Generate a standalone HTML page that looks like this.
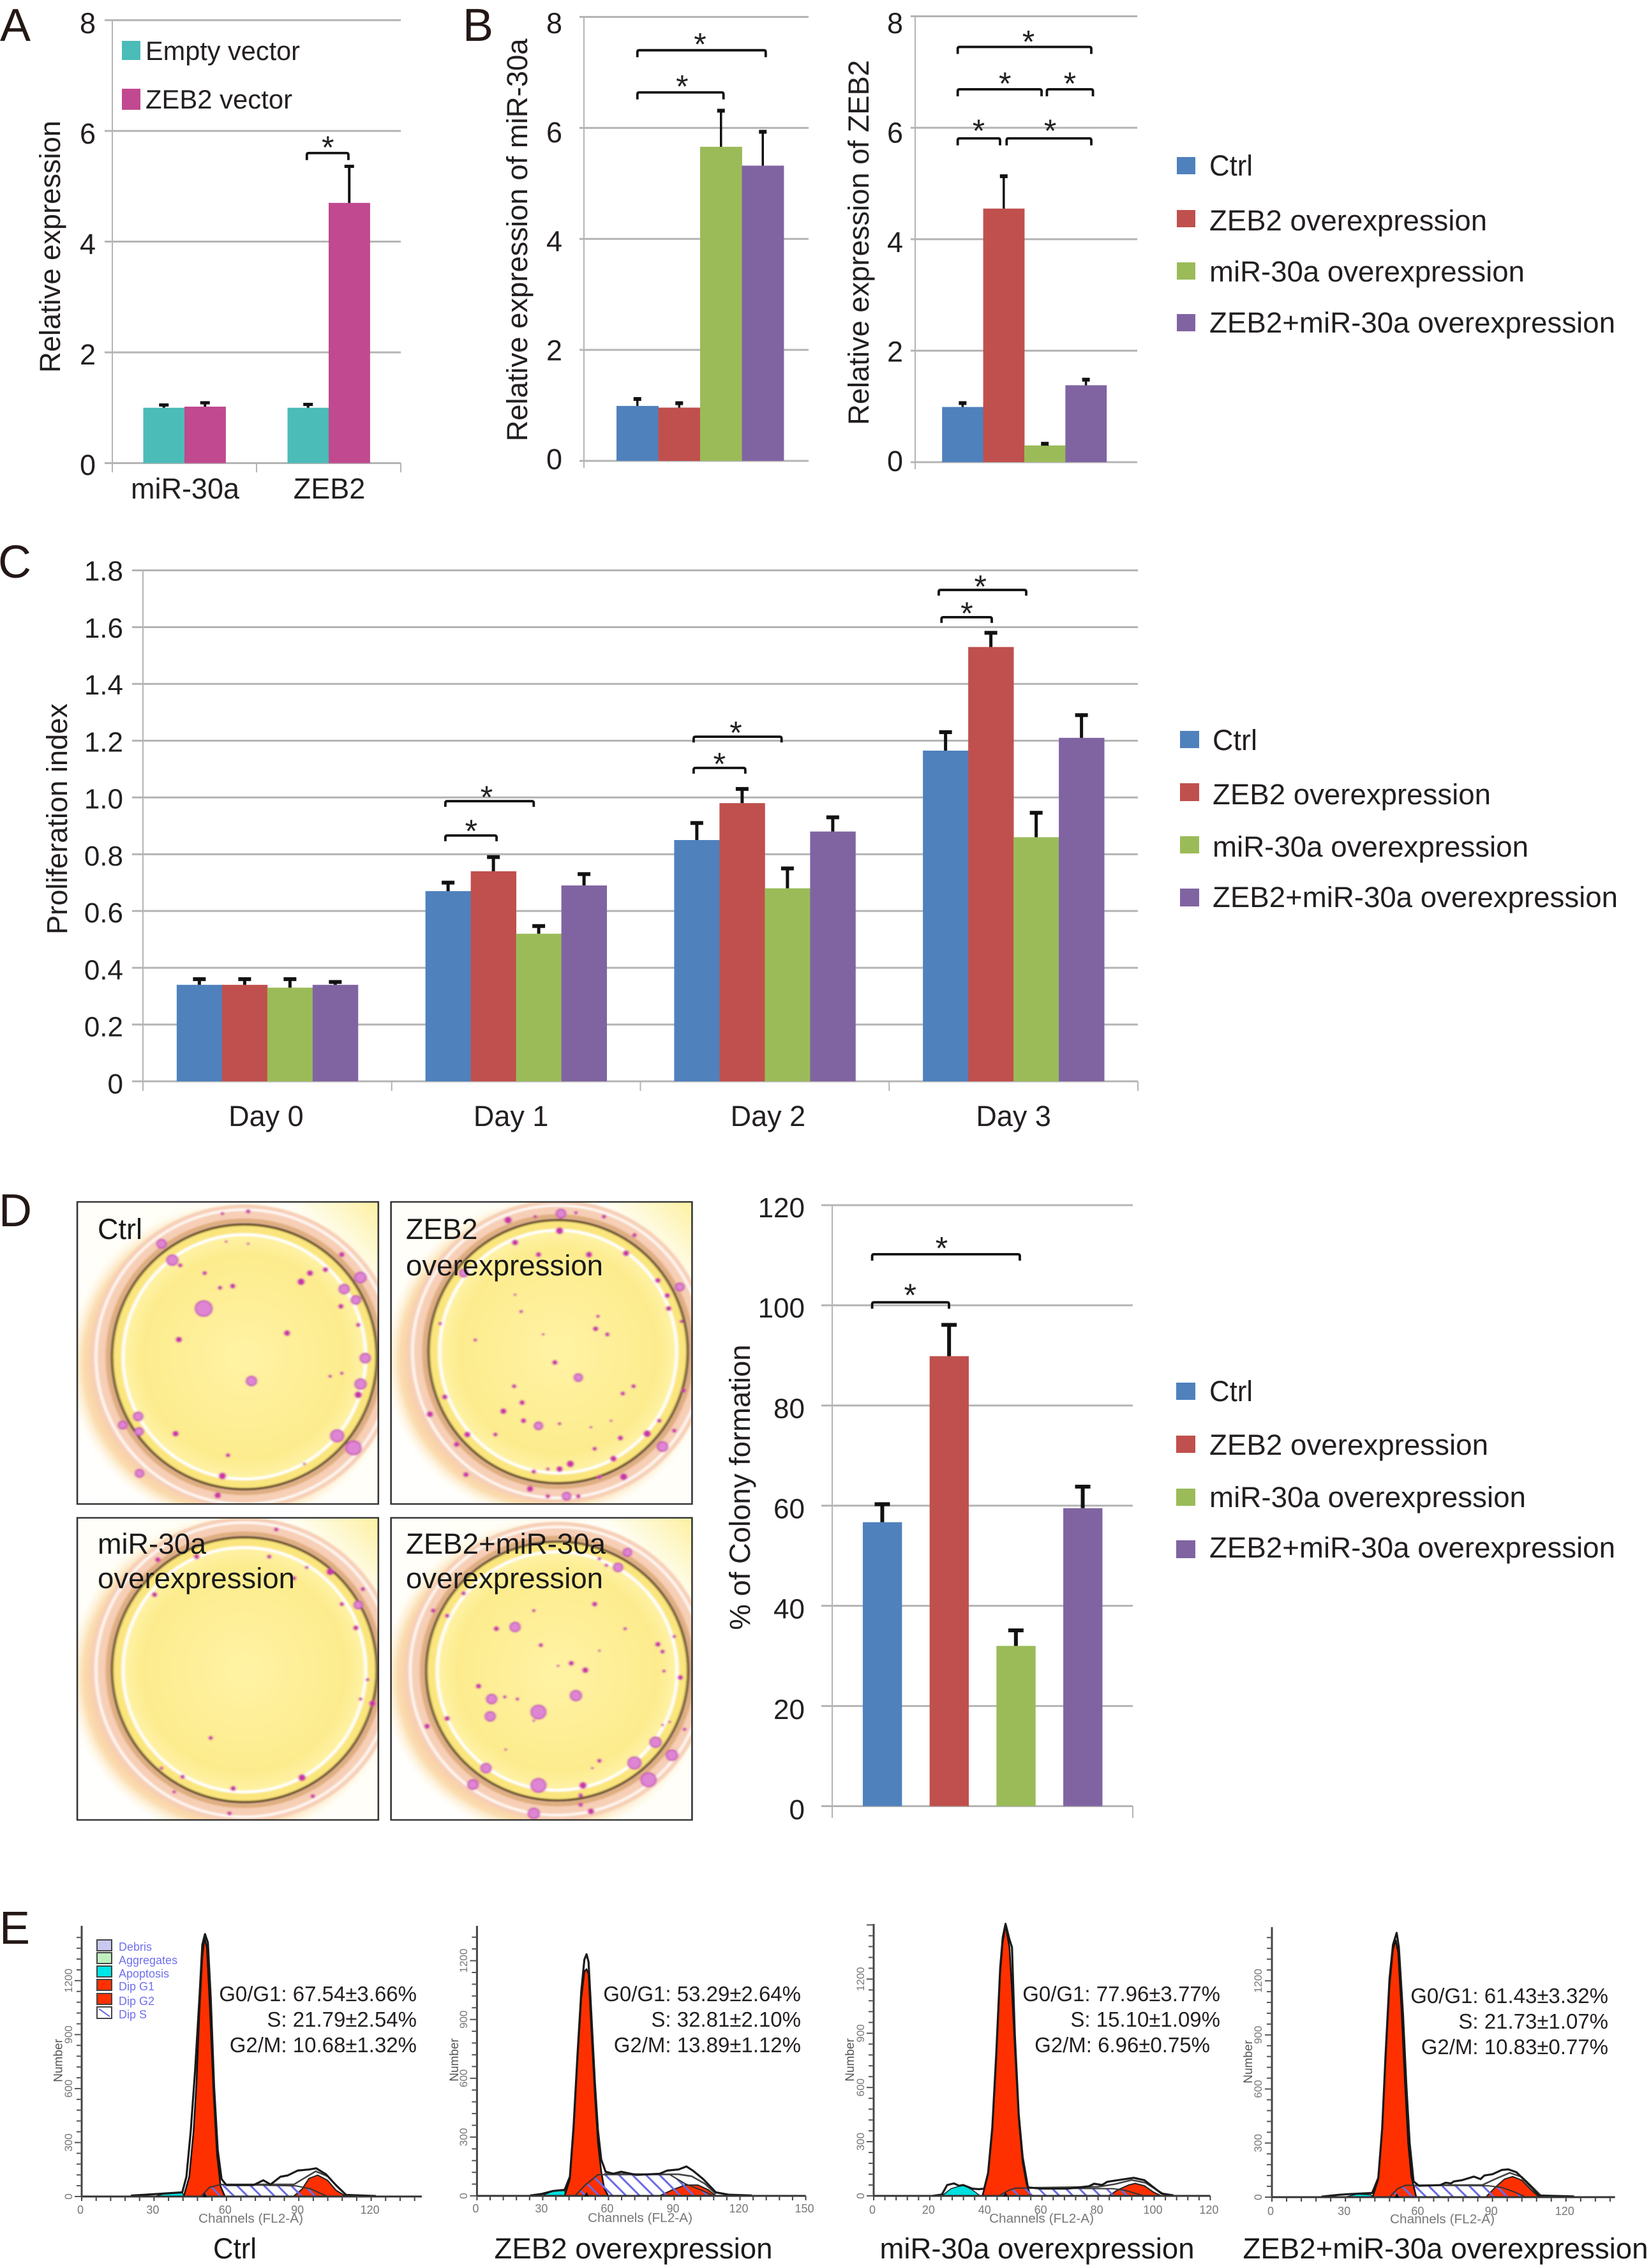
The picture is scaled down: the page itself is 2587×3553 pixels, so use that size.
<!DOCTYPE html>
<html lang="en">
<head>
<meta charset="utf-8">
<title>ZEB2 and miR-30a overexpression figure</title>
<style>
html,body{margin:0;padding:0;background:#fff;}
svg{display:block;font-family:"Liberation Sans",Arial,sans-serif;}
.t{fill:#231f20;}
</style>
</head>
<body>
<svg id="figure" xmlns="http://www.w3.org/2000/svg" width="2587" height="3553" viewBox="0 0 2587 3553">
<defs>
<pattern id="hatch" patternUnits="userSpaceOnUse" width="15" height="15" patternTransform="rotate(-45)">
<rect x="0" y="0" width="3" height="15" fill="#6a6ae6"/>
</pattern>
<radialGradient id="peach" cx="0.5" cy="0.5" r="0.5">
<stop offset="0" stop-color="#f6c7a6"/><stop offset="0.8" stop-color="#f6c4a4"/><stop offset="0.9" stop-color="#fbdcae"/><stop offset="1" stop-color="#fffbe6" stop-opacity="0"/>
</radialGradient>
<radialGradient id="yolk" cx="0.5" cy="0.5" r="0.5">
<stop offset="0" stop-color="#fff3a4"/><stop offset="0.85" stop-color="#fdec8e"/><stop offset="1" stop-color="#fef2a4"/>
</radialGradient>
<linearGradient id="photoBg" x1="0" y1="1" x2="1" y2="0">
<stop offset="0" stop-color="#ffffff"/><stop offset="0.85" stop-color="#fffef4"/><stop offset="1" stop-color="#fdf0a0"/>
</linearGradient>
<filter id="soften" x="-5%" y="-5%" width="110%" height="110%"><feGaussianBlur stdDeviation="2"/></filter>
</defs>
<rect x="0" y="0" width="2587" height="3553" fill="#fff"/>
<g id="marks"></g>

<g font-size="72" fill="#231815">
<text x="0" y="64">A</text>
<text x="725" y="64">B</text>
<text x="-3" y="905">C</text>
<text x="-2" y="1921">D</text>
<text x="-1" y="3045">E</text>
</g>

<g font-size="45" fill="#231f20" text-anchor="middle">
<text transform="translate(94,386.5) rotate(-90)" textLength="395" lengthAdjust="spacingAndGlyphs">Relative expression</text>
<text transform="translate(826,376) rotate(-90)" textLength="631" lengthAdjust="spacingAndGlyphs">Relative expression of miR-30a</text>
<text transform="translate(1361,380) rotate(-90)" textLength="572" lengthAdjust="spacingAndGlyphs">Relative expression of ZEB2</text>
<text transform="translate(105,1283) rotate(-90)" textLength="362" lengthAdjust="spacingAndGlyphs">Proliferation index</text>
<text transform="translate(1175,2330) rotate(-90)" textLength="447" lengthAdjust="spacingAndGlyphs">% of Colony formation</text>
</g>

<g font-size="41.5" fill="#231f20">
<rect x="191" y="64" width="29" height="30" fill="#4bbcb8"/>
<text x="228" y="94" textLength="242" lengthAdjust="spacingAndGlyphs">Empty vector</text>
<rect x="191" y="139" width="29" height="33" fill="#c0498f"/>
<text x="228" y="170" textLength="230" lengthAdjust="spacingAndGlyphs">ZEB2 vector</text>
</g>

<g font-size="45" fill="#231f20">
<rect x="1844" y="246" width="29" height="27" fill="#4f81bd"/>
<rect x="1844" y="329" width="29" height="27" fill="#c0504d"/>
<rect x="1844" y="411" width="29" height="27" fill="#9bbb59"/>
<rect x="1844" y="492" width="29" height="27" fill="#8064a2"/>
<text x="1895" y="275" textLength="68" lengthAdjust="spacingAndGlyphs">Ctrl</text>
<text x="1895" y="361" textLength="435" lengthAdjust="spacingAndGlyphs">ZEB2 overexpression</text>
<text x="1895" y="441" textLength="494" lengthAdjust="spacingAndGlyphs">miR-30a overexpression</text>
<text x="1895" y="521" textLength="636" lengthAdjust="spacingAndGlyphs">ZEB2+miR-30a overexpression</text>
</g>

<g font-size="45" fill="#231f20">
<rect x="1849" y="1145" width="30" height="27" fill="#4f81bd"/>
<rect x="1849" y="1227" width="30" height="28" fill="#c0504d"/>
<rect x="1849" y="1310" width="30" height="27" fill="#9bbb59"/>
<rect x="1849" y="1392" width="30" height="28" fill="#8064a2"/>
<text x="1900" y="1175" textLength="70" lengthAdjust="spacingAndGlyphs">Ctrl</text>
<text x="1900" y="1260" textLength="436" lengthAdjust="spacingAndGlyphs">ZEB2 overexpression</text>
<text x="1900" y="1342" textLength="495" lengthAdjust="spacingAndGlyphs">miR-30a overexpression</text>
<text x="1900" y="1421" textLength="635" lengthAdjust="spacingAndGlyphs">ZEB2+miR-30a overexpression</text>
</g>

<g font-size="45" fill="#231f20">
<rect x="1843" y="2166" width="30" height="27" fill="#4f81bd"/>
<rect x="1843" y="2249" width="30" height="27" fill="#c0504d"/>
<rect x="1843" y="2332" width="30" height="27" fill="#9bbb59"/>
<rect x="1843" y="2413" width="30" height="28" fill="#8064a2"/>
<text x="1895" y="2195" textLength="68" lengthAdjust="spacingAndGlyphs">Ctrl</text>
<text x="1895" y="2279" textLength="437" lengthAdjust="spacingAndGlyphs">ZEB2 overexpression</text>
<text x="1895" y="2361" textLength="496" lengthAdjust="spacingAndGlyphs">miR-30a overexpression</text>
<text x="1895" y="2440" textLength="636" lengthAdjust="spacingAndGlyphs">ZEB2+miR-30a overexpression</text>
</g>

<g font-size="45" fill="#1a1a1a">
<text x="153" y="1941">Ctrl</text>
<text x="636" y="1941">ZEB2</text>
<text x="636" y="1998" textLength="309" lengthAdjust="spacingAndGlyphs">overexpression</text>
<text x="153" y="2434">miR-30a</text>
<text x="153" y="2488" textLength="309" lengthAdjust="spacingAndGlyphs">overexpression</text>
<text x="636" y="2434" textLength="313" lengthAdjust="spacingAndGlyphs">ZEB2+miR-30a</text>
<text x="636" y="2488" textLength="309" lengthAdjust="spacingAndGlyphs">overexpression</text>
</g>

<g font-size="18" fill="#7070ee">
<rect x="152" y="3039" width="23" height="17" fill="#c8c8f0" stroke="#444" stroke-width="2"/>
<rect x="152" y="3059" width="23" height="17" fill="#c0f0c0" stroke="#444" stroke-width="2"/>
<rect x="152" y="3080" width="23" height="17" fill="#00e6e6" stroke="#444" stroke-width="2"/>
<rect x="152" y="3101" width="23" height="17" fill="#ff3000" stroke="#444" stroke-width="2"/>
<rect x="152" y="3123" width="23" height="17" fill="#ff3000" stroke="#444" stroke-width="2"/>
<rect x="152" y="3144" width="23" height="18" fill="#fff" stroke="#444" stroke-width="2"/>
<line x1="155" y1="3147" x2="172" y2="3159" stroke="#6a6ae6" stroke-width="2"/>
<text x="186" y="3056">Debris</text>
<text x="186" y="3077">Aggregates</text>
<text x="186" y="3098">Apoptosis</text>
<text x="186" y="3118">Dip G1</text>
<text x="186" y="3141">Dip G2</text>
<text x="186" y="3162">Dip S</text>
</g>

<g font-size="33" fill="#231f20" text-anchor="end">
<text x="653" y="3135">G0/G1: 67.54±3.66%</text>
<text x="653" y="3175">S: 21.79±2.54%</text>
<text x="653" y="3215">G2/M: 10.68±1.32%</text>
<text x="1255" y="3135">G0/G1: 53.29±2.64%</text>
<text x="1255" y="3175">S: 32.81±2.10%</text>
<text x="1255" y="3215">G2/M: 13.89±1.12%</text>
<text x="1912" y="3135">G0/G1: 77.96±3.77%</text>
<text x="1912" y="3175">S: 15.10±1.09%</text>
<text x="1896" y="3215">G2/M: 6.96±0.75%</text>
<text x="2520" y="3138">G0/G1: 61.43±3.32%</text>
<text x="2520" y="3178">S: 21.73±1.07%</text>
<text x="2520" y="3218">G2/M: 10.83±0.77%</text>
</g>

<g font-size="45" fill="#1a1a1a" text-anchor="middle">
<text x="368" y="3538" textLength="68" lengthAdjust="spacingAndGlyphs">Ctrl</text>
<text x="992.5" y="3538" textLength="436" lengthAdjust="spacingAndGlyphs">ZEB2 overexpression</text>
<text x="1625" y="3538" textLength="493" lengthAdjust="spacingAndGlyphs">miR-30a overexpression</text>
<text x="2265" y="3538" textLength="635" lengthAdjust="spacingAndGlyphs">ZEB2+miR-30a overexpression</text>
</g>
</svg>

<script>
/* ---------- Panel A data ---------- */
const panelACategories = ['miR-30a', 'ZEB2'];
const panelAEmpty = [1.0, 1.0];
const panelAEmptyTop = [1.05, 1.06];
const panelAZeb2 = [1.02, 4.7];
const panelAZeb2Top = [1.09, 5.36];
const panelATicks = [0, 2, 4, 6, 8];
const panelATickLabels = ['0', '2', '4', '6', '8'];

/* ---------- Panel B data ---------- */
const panelBCategories = [''];
const bMirCtrl = [0.99];
const bMirCtrlTop = [1.115];
const bMirZeb2 = [0.96];
const bMirZeb2Top = [1.04];
const bMirMir30a = [5.66];
const bMirMir30aTop = [6.31];
const bMirCombo = [5.32];
const bMirComboTop = [5.93];
const bZebCtrl = [0.99];
const bZebCtrlTop = [1.06];
const bZebZeb2 = [4.55];
const bZebZeb2Top = [5.13];
const bZebMir30a = [0.30];
const bZebMir30aTop = [0.33];
const bZebCombo = [1.38];
const bZebComboTop = [1.48];

/* ---------- Panel C data ---------- */
const panelCCategories = ['Day 0', 'Day 1', 'Day 2', 'Day 3'];
const cCtrl = [0.34, 0.67, 0.85, 1.165];
const cCtrlTop = [0.36, 0.70, 0.91, 1.23];
const cZeb2 = [0.34, 0.74, 0.98, 1.53];
const cZeb2Top = [0.36, 0.79, 1.03, 1.58];
const cMir30a = [0.33, 0.52, 0.68, 0.86];
const cMir30aTop = [0.36, 0.547, 0.75, 0.946];
const cCombo = [0.34, 0.69, 0.88, 1.21];
const cComboTop = [0.35, 0.73, 0.93, 1.29];
const panelCTicks = [0, 0.2, 0.4, 0.6, 0.8, 1.0, 1.2, 1.4, 1.6, 1.8];
const panelCTickLabels = ['0', '0.2', '0.4', '0.6', '0.8', '1.0', '1.2', '1.4', '1.6', '1.8'];

/* ---------- Panel D data ---------- */
const dCtrl = [56.7];
const dCtrlTop = [60.3];
const dZeb2 = [89.85];
const dZeb2Top = [96.1];
const dMir30a = [32];
const dMir30aTop = [35.1];
const dCombo = [59.5];
const dComboTop = [63.8];
const panelDTicks = [0, 20, 40, 60, 80, 100, 120];
const panelDTickLabels = ['0', '20', '40', '60', '80', '100', '120'];

/* ---------- Panel E data: [channel, count] ---------- */
const ctrlG1 = [[42.3,0],[44.6,110],[46.4,365],[47.6,631],[48.8,1033],[50,1329],[50.9,1439],[51.9,1385],[53.2,1033],[54.7,564],[56.1,231],[57.6,56],[59.4,0]];
const ctrlG2 = [[87.7,0],[91.3,40],[94.2,100],[97.8,119],[101.9,90],[105.4,35],[109.6,0]];
const ctrlS = [[49.4,0],[52.9,50],[57.6,67],[88.9,59],[94.8,43],[101.9,0]];
const ctrlApoptosis = [[29.9,0],[34.6,16],[41.7,21],[42.6,0]];
const ctrlFit = [[60,67],[88,67],[92,100],[97,140],[102,112],[106,55],[110,4]];
const ctrlEnvelope = [[20.4,5],[29.9,13],[41.7,23],[43.4,110],[45.2,365],[47,700],[48.8,1103],[50,1399],[51.1,1459],[52.3,1412],[53.5,1103],[54.9,607],[56.4,258],[58,97],[60,63],[71.2,63],[75.3,90],[78.3,67],[82.4,110],[85.4,117],[89.5,144],[94.2,150],[97.2,157],[101.3,123],[105.4,63],[109.6,9],[122,3]];

const zebG1 = [[40,0],[42.4,86],[44.1,332],[45.9,702],[47.6,1010],[49,1145],[50,1157],[50.9,1133],[52.3,825],[53.8,517],[55.2,271],[56.7,123],[58.1,37],[59.9,0]];
const zebG2 = [[83.3,0],[89.2,31],[95,55],[100.9,55],[105.5,31],[109,0]];
const zebS = [[44.7,0],[49.4,55],[55.2,108],[68,108],[88,108],[95,62],[103.2,25],[107.9,0]];
const zebApoptosis = [[29.5,0],[34.7,25],[40,27],[40.6,0]];
const zebFit = [[58,112],[86,110],[92,110],[98,100],[104,62],[109,10]];
const zebEnvelope = [[24.2,2],[29.5,10],[34.7,25],[40,31],[42.4,98],[44.1,357],[45.9,726],[47.6,1046],[49,1206],[50,1233],[50.9,1194],[52.3,899],[53.8,579],[55.2,332],[56.7,185],[58.7,123],[62.2,113],[65.8,123],[72.8,107],[83.3,113],[86.8,129],[92,135],[95.6,150],[98.5,129],[103.2,86],[109,18],[114.9,6],[125.4,2]];

const mirG1 = [[38.8,0],[40.8,120],[42.3,361],[43.7,762],[45.1,1230],[46,1403],[47,1497],[48.4,1377],[49.3,1136],[50.3,829],[51.7,428],[53.1,187],[54.5,67],[55.9,0]];
const mirG2 = [[83.8,0],[87,33],[90.9,60],[93.2,69],[96.5,56],[99.8,20],[102.6,0]];
const mirS = [[44.6,0],[48.4,33],[50.8,43],[85.2,40],[89,33],[96.5,0]];
const mirApoptosis = [[24.3,0],[27.6,40],[31.9,60],[35.2,33],[38,0]];
const mirFit = [[56,45],[80,50],[86,65],[92,88],[97,72],[101,32],[104,5]];
const mirEnvelope = [[21,0],[24.3,7],[26.2,60],[28.6,69],[30.5,56],[31.9,60],[35.2,40],[37.5,37],[39.4,40],[40.8,127],[42.3,380],[43.7,790],[45.1,1260],[46,1430],[47,1506],[48.4,1420],[49.3,1376],[50.3,895],[51.7,454],[53.1,214],[55,47],[59.7,40],[69.2,40],[76.7,53],[78.6,67],[81.4,60],[83.3,78],[87,87],[92.7,100],[96.5,87],[99.8,47],[102.6,13],[106.9,3]];

const comboG1 = [[41.1,0],[43.4,100],[45,368],[46.4,770],[48,1172],[49.4,1373],[50.5,1426],[51.5,1359],[52.9,1038],[54.3,636],[55.6,301],[56.9,114],[58.9,0]];
const comboG2 = [[87.3,0],[91.1,54],[94.9,100],[98.2,114],[102,94],[105.8,40],[109.1,0]];
const comboS = [[48,0],[51.3,47],[54.5,66],[88.4,63],[93.8,54],[99.3,27],[103.6,0]];
const comboApoptosis = [[29.5,0],[34.9,17],[40.4,13],[41.5,0]];
const comboFit = [[60,66],[86,68],[91,100],[97,135],[102,112],[106,60],[110,6]];
const comboEnvelope = [[20.2,3],[27.3,13],[31.6,17],[40.9,23],[43.4,107],[45,382],[46.4,797],[48,1212],[49.4,1400],[50.9,1466],[51.8,1386],[53.5,1011],[54.8,636],[56.2,301],[57.8,87],[60,63],[68.7,67],[70.9,80],[73.1,76],[74.2,87],[77.5,94],[82.4,114],[85.1,100],[86.7,120],[90,127],[93.8,151],[96.5,154],[99.8,138],[103.6,87],[109.1,9],[123.3,4]];

const histXTicks30 = [0, 30, 60, 90, 120];
const histXTicks30Long = [0, 30, 60, 90, 120, 150];
const histXTicks20 = [0, 20, 40, 60, 80, 100, 120];
const histYTicks = [0, 300, 600, 900, 1200];

/* ---------- Colony photo dots (decorative photograph texture) ---------- */
const colonyCtrl = [[345,190,10],[368,228,12],[385,240,5],[437,258,5],[470,292,5],[497,288,6],[435,340,18],[382,412,7],[613,397,7],[643,278,8],[662,258,7],[695,250,6],[770,268,12],[735,295,11],[760,320,10],[728,335,6],[765,378,5],[780,455,11],[770,515,12],[765,540,8],[730,490,4],[705,497,4],[537,508,11],[487,680,5],[375,630,7],[262,610,9],[295,590,10],[297,625,9],[720,635,14],[755,663,16],[475,728,8],[465,773,7],[298,722,9],[475,120,4],[530,115,5],[483,185,3],[530,190,3],[730,215,6],[650,700,3]];
const colonyZeb2 = [[1085,135,8],[1143,127,4],[1198,120,10],[1230,118,4],[1290,127,5],[1355,170,5],[1100,187,7],[1195,160,8],[1258,215,7],[1337,212,7],[1150,215,6],[990,258,9],[1405,275,6],[1452,290,9],[1425,310,6],[1113,347,4],[1100,308,3],[1277,358,4],[1272,387,6],[1297,400,5],[1160,400,3],[1015,413,4],[1428,340,6],[1455,370,4],[940,375,4],[1185,465,6],[1235,500,9],[1098,520,5],[1353,520,5],[1330,537,5],[1305,600,3],[1075,578,7],[1115,558,6],[1118,600,6],[1150,612,9],[1195,607,4],[1262,615,3],[1408,600,5],[1440,623,5],[1382,630,8],[1325,640,6],[1058,632,5],[998,632,7],[950,545,6],[975,655,6],[918,585,7],[1270,665,5],[1310,688,7],[1218,700,8],[1195,712,7],[1170,712,4],[1140,718,5],[1132,758,7],[1280,730,5],[1332,730,8],[1415,660,11],[1210,775,9],[1235,775,5],[1170,775,5],[995,725,6],[1460,530,5]];
const colonyMir = [[337,922,6],[330,1003,6],[420,915,6],[575,915,5],[628,965,5],[655,940,4],[705,950,8],[730,1025,5],[765,1027,9],[760,1080,6],[775,990,5],[785,1200,4],[770,1245,4],[795,1255,7],[450,1335,5],[390,1425,5],[345,1405,4],[498,1452,6],[645,1427,8],[668,1470,5],[372,1460,4],[490,1510,5],[590,852,5]];
const colonyCombo = [[1340,905,9],[1320,940,10],[1280,920,4],[1295,935,4],[955,1052,5],[925,1040,5],[990,1000,5],[1270,1025,6],[1140,1040,4],[1060,1082,6],[1100,1078,11],[1155,1120,5],[1335,1082,4],[1280,1133,3],[1405,1118,6],[1415,1135,5],[1440,1100,4],[1220,1162,6],[1250,1178,7],[1192,1168,3],[1418,1180,4],[1453,1195,6],[1022,1215,6],[1050,1245,11],[1078,1240,4],[1105,1245,4],[1150,1275,16],[1230,1237,12],[1047,1285,11],[1140,1295,3],[955,1290,6],[1430,1298,3],[1415,1305,3],[1462,1315,4],[912,1308,6],[1400,1345,12],[1435,1375,12],[1355,1393,14],[1385,1432,16],[1280,1388,5],[1265,1405,3],[1038,1405,11],[1010,1443,11],[1150,1445,16],[1245,1445,8],[1240,1468,5],[1240,1490,5],[1262,1505,7],[1140,1510,12],[1080,1362,3]];

const NS = 'http://www.w3.org/2000/svg';
const marks = document.getElementById('marks');

function mk(parent, tag, attrs, name, text) {
  const el = document.createElementNS(NS, tag);
  for (const k in attrs) el.setAttribute(k, attrs[k]);
  
  
  if (text !== undefined) el.textContent = text;
  parent.appendChild(el);
  return el;
}

const GRID = '#b4b4b4';
const INK = '#231f20';

function drawBarChart(c) {
  const g = mk(marks, 'g', {}, c.name);
  const y = v => c.yBot - (v / c.yMax) * (c.yBot - c.yTop);
  const n = c.categories.length;
  const band = (c.x1 - c.x0) / n;
  const k = c.series.length;
  const span = (k - 1) * c.step + c.barW;
  const barLeft = (gi, si) => c.x0 + gi * band + (band - span) / 2 + c.dx + si * c.step;

  c.ticks.forEach((t, i) => {
    mk(g, 'line', {x1: c.leftTick, x2: c.x1, y1: y(t), y2: y(t), stroke: GRID, 'stroke-width': 3}, 'gridline-' + c.tickLabels[i]);
    const cy = c.labelBot + (c.labelTop - c.labelBot) * (t / c.yMax);
    mk(g, 'text', {x: c.labelRight, y: cy + 16, 'text-anchor': 'end', 'font-size': c.tickFont, fill: INK}, 'y-tick-label-' + c.tickLabels[i], c.tickLabels[i]);
  });
  mk(g, 'line', {x1: c.x0, x2: c.x0, y1: c.yTop, y2: c.bottomTick, stroke: GRID, 'stroke-width': 2}, 'y-axis-line');
  if (!c.noRightTicks) {
    for (let i = 1; i <= n; i++) {
      mk(g, 'line', {x1: c.x0 + i * band, x2: c.x0 + i * band, y1: c.yBot, y2: c.bottomTick, stroke: GRID, 'stroke-width': 2}, 'x-axis-tick');
    }
  }

  c.categories.forEach((cat, gi) => {
    if (cat) {
      const dx = c.catDx ? c.catDx[gi] : 0;
      mk(g, 'text', {x: c.x0 + (gi + 0.5) * band + dx, y: c.catY, 'text-anchor': 'middle', 'font-size': 45, fill: INK}, 'x-tick-label-' + cat, cat);
    }
    c.series.forEach((s, si) => {
      const bx = barLeft(gi, si);
      const top = y(s.values[gi]);
      mk(g, 'rect', {x: bx, y: top, width: c.barW + 0.4, height: y(0) - top, fill: s.color}, 'bar-' + s.key + '-' + gi);
      const cx = bx + c.barW / 2;
      const et = y(s.tops[gi]);
      mk(g, 'line', {x1: cx, x2: cx, y1: top, y2: et, stroke: '#111', 'stroke-width': c.whisker}, 'error-bar-' + s.key + '-' + gi);
      mk(g, 'rect', {x: cx - c.capW / 2, y: et - c.capH / 2, width: c.capW, height: c.capH, fill: '#111'}, 'error-cap-' + s.key + '-' + gi);
    });
  });

  c.brackets.forEach(b => {
    const [gi, a, e, v, sa, sv] = b;
    const base = barLeft(gi, 0);
    const xa = base + a * c.step;
    const xb = base + e * c.step;
    const yy = y(v);
    const d = c.drop;
    mk(g, 'path', {d: `M${xa} ${yy + d}L${xa} ${yy + 3}Q${xa} ${yy} ${xa + 3} ${yy}L${xb - 3} ${yy}Q${xb} ${yy} ${xb} ${yy + 3}L${xb} ${yy + d}`, fill: 'none', stroke: '#111', 'stroke-width': 3.8}, 'significance-bracket');
    mk(g, 'text', {x: base + sa * c.step, y: y(sv) + 28, 'text-anchor': 'middle', 'font-size': 50, fill: '#222'}, 'significance-star', '*');
  });
}

const BLUE = '#4f81bd', RED = '#c0504d', GREEN = '#9bbb59', PURPLE = '#8064a2';

drawBarChart({
  name: 'panel-a-chart', categories: panelACategories, catY: 781, catDx: [1, 1],
  x0: 176, x1: 628, yTop: 31.6, yBot: 725.5, yMax: 8, leftTick: 164, bottomTick: 740,
  ticks: panelATicks, tickLabels: panelATickLabels, labelTop: 36, labelBot: 728, labelRight: 150, tickFont: 45,
  barW: 64.5, step: 64.5, dx: 0, whisker: 4, capW: 15, capH: 5, drop: 11,
  series: [
    {key: 'empty-vector', color: '#4bbcb8', values: panelAEmpty, tops: panelAEmptyTop},
    {key: 'zeb2-vector', color: '#c0498f', values: panelAZeb2, tops: panelAZeb2Top}
  ],
  brackets: [[1, 0.47, 1.48, 5.6, 0.98, 5.83]]
});

drawBarChart({
  name: 'panel-b-mir30a-chart', categories: panelBCategories,
  x0: 915, x1: 1267, yTop: 26.5, yBot: 722, yMax: 8, leftTick: 908, bottomTick: 733, noRightTicks: true,
  ticks: panelATicks, tickLabels: panelATickLabels, labelTop: 36, labelBot: 719, labelRight: 881, tickFont: 45,
  barW: 65.5, step: 65.5, dx: 6, whisker: 3.5, capW: 12, capH: 6, drop: 11,
  series: [
    {key: 'ctrl', color: BLUE, values: bMirCtrl, tops: bMirCtrlTop},
    {key: 'zeb2', color: RED, values: bMirZeb2, tops: bMirZeb2Top},
    {key: 'mir30a', color: GREEN, values: bMirMir30a, tops: bMirMir30aTop},
    {key: 'combo', color: PURPLE, values: bMirCombo, tops: bMirComboTop}
  ],
  brackets: [[0, 0.5, 3.57, 7.4, 2.0, 7.63], [0, 0.5, 2.56, 6.64, 1.57, 6.87]]
});

drawBarChart({
  name: 'panel-b-zeb2-chart', categories: panelBCategories,
  x0: 1434, x1: 1782, yTop: 25.5, yBot: 724, yMax: 8, leftTick: 1427, bottomTick: 735, noRightTicks: true,
  ticks: panelATicks, tickLabels: panelATickLabels, labelTop: 36, labelBot: 722, labelRight: 1415, tickFont: 45,
  barW: 64.4, step: 64.4, dx: -3, whisker: 3.5, capW: 12, capH: 6, drop: 11,
  series: [
    {key: 'ctrl', color: BLUE, values: bZebCtrl, tops: bZebCtrlTop},
    {key: 'zeb2', color: RED, values: bZebZeb2, tops: bZebZeb2Top},
    {key: 'mir30a', color: GREEN, values: bZebMir30a, tops: bZebMir30aTop},
    {key: 'combo', color: PURPLE, values: bZebCombo, tops: bZebComboTop}
  ],
  brackets: [
    [0, 0.38, 3.63, 7.45, 2.10, 7.67],
    [0, 0.38, 2.42, 6.69, 1.53, 6.92],
    [0, 2.55, 3.67, 6.69, 3.11, 6.92],
    [0, 0.38, 1.41, 5.81, 0.89, 6.07],
    [0, 1.57, 3.63, 5.81, 2.63, 6.07]
  ]
});

drawBarChart({
  name: 'panel-c-chart', categories: panelCCategories, catY: 1764, catDx: [-2, -8, 5, 0],
  x0: 224, x1: 1783, yTop: 893.5, yBot: 1694, yMax: 1.8, leftTick: 207, bottomTick: 1709,
  ticks: panelCTicks, tickLabels: panelCTickLabels, labelTop: 893.5, labelBot: 1697, labelRight: 193, tickFont: 44,
  barW: 71, step: 71, dx: 0, whisker: 5, capW: 20, capH: 6, drop: 9,
  series: [
    {key: 'ctrl', color: BLUE, values: cCtrl, tops: cCtrlTop},
    {key: 'zeb2', color: RED, values: cZeb2, tops: cZeb2Top},
    {key: 'mir30a', color: GREEN, values: cMir30a, tops: cMir30aTop},
    {key: 'combo', color: PURPLE, values: cCombo, tops: cComboTop}
  ],
  brackets: [
    [1, 0.44, 2.39, 0.987, 1.35, 1.025],
    [1, 0.44, 1.57, 0.866, 1.01, 0.906],
    [2, 0.43, 2.37, 1.214, 1.36, 1.253],
    [2, 0.43, 1.57, 1.104, 1.0, 1.142],
    [3, 0.35, 2.28, 1.731, 1.27, 1.767],
    [3, 0.41, 1.52, 1.635, 0.97, 1.673]
  ]
});

drawBarChart({
  name: 'panel-d-chart', categories: panelBCategories,
  x0: 1304, x1: 1775, yTop: 1888, yBot: 2829.5, yMax: 120, leftTick: 1287, bottomTick: 2848,
  ticks: panelDTicks, tickLabels: panelDTickLabels, labelTop: 1891, labelBot: 2834, labelRight: 1261, tickFont: 44,
  barW: 61, step: 104.7, dx: 0, whisker: 6, capW: 24, capH: 6, drop: 10,
  series: [
    {key: 'ctrl', color: BLUE, values: dCtrl, tops: dCtrlTop},
    {key: 'zeb2', color: RED, values: dZeb2, tops: dZeb2Top},
    {key: 'mir30a', color: GREEN, values: dMir30a, tops: dMir30aTop},
    {key: 'combo', color: PURPLE, values: dCombo, tops: dComboTop}
  ],
  brackets: [[0, 0.14, 2.35, 110.2, 1.18, 112.8], [0, 0.14, 1.29, 100.6, 0.71, 103.4]]
});

/* ---------- Colony photos, drawn in a stretched local coordinate space ---------- */
const photoLayer = mk(marks, 'g', {transform: 'translate(0 1820) scale(0.7337 0.6761)'}, 'colony-photos');
function drawPhoto(name, fx, fy, cx, cy, rx, ry, dots) {
  const clipId = 'clip-' + name;
  const defs = mk(photoLayer, 'clipPath', {id: clipId}, name + '-clip');
  mk(defs, 'rect', {x: fx, y: fy, width: 643, height: 700}, name + '-clip-rect');
  const clipped = mk(photoLayer, 'g', {'clip-path': `url(#${clipId})`}, name);
  mk(clipped, 'rect', {x: fx, y: fy, width: 643, height: 700, fill: 'url(#photoBg)'}, name + '-background');
  const g = mk(clipped, 'g', {filter: 'url(#soften)'}, name + '-dish');
  const ring = (dr, stroke, w, op) => mk(g, 'ellipse', {cx, cy, rx: rx + dr, ry: ry + dr, fill: 'none', stroke, 'stroke-width': w, opacity: op}, name + '-dish-ring');
  mk(g, 'ellipse', {cx: cx - 24, cy: cy + 16, rx: rx + 72, ry: ry + 72, fill: 'url(#peach)'}, name + '-dish-halo');
  mk(g, 'ellipse', {cx, cy, rx: rx + 46, ry: ry + 46, fill: '#f7cfb6'}, name + '-dish-wall');
  ring(34, '#ffffff', 6, 0.85);
  ring(9, '#dba878', 9, 0.9);
  mk(g, 'ellipse', {cx, cy, rx, ry, fill: '#fbe67e'}, name + '-dish-rim');
  ring(0, '#5e3f14', 6, 1);
  ring(-24, '#ffffff', 7, 1);
  mk(g, 'ellipse', {cx, cy, rx: rx - 27, ry: ry - 27, fill: 'url(#yolk)'}, name + '-dish-medium');
  dots.forEach(d => {
    const big = d[2] >= 9;
    mk(g, 'ellipse', {cx: d[0], cy: d[1], rx: d[2], ry: d[2], fill: big ? '#de86d4' : '#cc30a8', stroke: big ? '#c442b0' : 'none', 'stroke-width': 3}, 'colony');
  });
  mk(photoLayer, 'rect', {x: fx, y: fy, width: 643, height: 700, fill: 'none', stroke: '#333', 'stroke-width': 3.5}, name + '-frame');
}
drawPhoto('photo-ctrl', 165, 93, 522, 452, 283, 307, colonyCtrl);
drawPhoto('photo-zeb2', 835, 93, 1192, 440, 277, 305, colonyZeb2);
drawPhoto('photo-mir30a', 165, 825, 522, 1177, 283, 307, colonyMir);
drawPhoto('photo-combo', 835, 825, 1190, 1180, 280, 300, colonyCombo);

/* ---------- Cell-cycle histograms ---------- */
function drawHist(c) {
  const g = mk(marks, 'g', {}, c.name);
  const X = ch => c.ox + ch * c.sx;
  const Y = n => c.base - n * c.sy;
  const pts = a => a.map(p => X(p[0]).toFixed(1) + ',' + Y(p[1]).toFixed(1)).join(' ');

  mk(g, 'polygon', {points: pts(c.s), fill: '#fff'}, 'dip-s-area');
  mk(g, 'polygon', {points: pts(c.apoptosis), fill: '#00e0e0', stroke: '#222', 'stroke-width': 1.5}, 'apoptosis-peak');
  mk(g, 'polygon', {points: pts(c.g1), fill: '#ff3000', stroke: '#111', 'stroke-width': 2.5, 'stroke-linejoin': 'round'}, 'dip-g1-peak');
  mk(g, 'polygon', {points: pts(c.g2), fill: '#ff3000', stroke: '#222', 'stroke-width': 2, 'stroke-linejoin': 'round'}, 'dip-g2-peak');
  mk(g, 'polygon', {points: pts(c.s), fill: 'url(#hatch)', stroke: '#333', 'stroke-width': 2}, 'dip-s-hatch');
  mk(g, 'polyline', {points: pts(c.fit), fill: 'none', stroke: '#444', 'stroke-width': 2.6}, 'model-fit-line');
  mk(g, 'polyline', {points: pts(c.envelope), fill: 'none', stroke: '#1a1a1a', 'stroke-width': 3.2, 'stroke-linejoin': 'round'}, 'histogram-envelope');

  mk(g, 'line', {x1: c.ox, x2: c.ox, y1: c.top, y2: c.base, stroke: '#444', 'stroke-width': 3}, 'y-axis-line');
  mk(g, 'line', {x1: c.ox, x2: X(c.xMax), y1: c.base, y2: c.base, stroke: '#333', 'stroke-width': 3}, 'x-axis-line');
  for (let n = 0; n <= c.yMax; n += 60) {
    const major = n % 300 === 0;
    mk(g, 'line', {x1: c.ox - (major ? 11 : 8), x2: c.ox, y1: Y(n), y2: Y(n), stroke: '#555', 'stroke-width': 2}, 'y-tick');
  }
  for (let ch = 0; ch <= c.xMax; ch += c.xMinor) {
    mk(g, 'line', {x1: X(ch), x2: X(ch), y1: c.base, y2: c.base + 7, stroke: '#444', 'stroke-width': 2}, 'x-tick');
  }
  c.xTicks.forEach(t => {
    mk(g, 'text', {x: X(t) - 2, y: c.xLabelY + 7, 'text-anchor': 'middle', 'font-size': 18, fill: '#777'}, 'x-tick-label-' + t, String(t));
  });
  c.yTicks.forEach(t => {
    mk(g, 'text', {transform: `translate(${c.yLabelX + 6},${Y(t)}) rotate(-90)`, 'text-anchor': 'middle', 'font-size': 17, fill: '#777'}, 'y-tick-label-' + t, String(t));
  });
  mk(g, 'text', {x: c.chanX, y: c.chanY + 7, 'text-anchor': 'middle', 'font-size': 20, fill: '#777', textLength: 164, lengthAdjust: 'spacingAndGlyphs'}, 'x-axis-title', 'Channels  (FL2-A)');
  mk(g, 'text', {transform: `translate(${c.numX + 6},${c.numY}) rotate(-90)`, 'text-anchor': 'middle', 'font-size': 19, fill: '#555'}, 'y-axis-title', 'Number');
  mk(g, 'path', {d: `M${X(c.peak) - 4} ${c.base + 1}L${X(c.peak) + 4} ${c.base + 1}L${X(c.peak)} ${c.base - 6}Z`, fill: '#111'}, 'g1-peak-marker');
}

drawHist({name: 'histogram-ctrl', ox: 128, sx: 3.78, base: 3441, sy: 0.2818, top: 3017, xMax: 141, xMinor: 6, yMax: 1440, peak: 51,
  g1: ctrlG1, g2: ctrlG2, s: ctrlS, apoptosis: ctrlApoptosis, fit: ctrlFit, envelope: ctrlEnvelope, xTicks: histXTicks30, yTicks: histYTicks,
  xLabelY: 3461, yLabelX: 107, chanX: 393, chanY: 3475, numX: 91.5, numY: 3228});
drawHist({name: 'histogram-zeb2', ox: 747.4, sx: 3.434, base: 3440, sy: 0.307, top: 3017, xMax: 150, xMinor: 6, yMax: 1320, peak: 50,
  g1: zebG1, g2: zebG2, s: zebS, apoptosis: zebApoptosis, fit: zebFit, envelope: zebEnvelope, xTicks: histXTicks30Long, yTicks: histYTicks,
  xLabelY: 3459, yLabelX: 726, chanX: 1003, chanY: 3474, numX: 712, numY: 3227});
drawHist({name: 'histogram-mir30a', ox: 1369, sx: 4.395, base: 3440, sy: 0.283, top: 3014, xMax: 120, xMinor: 4, yMax: 1500, peak: 47,
  g1: mirG1, g2: mirG2, s: mirS, apoptosis: mirApoptosis, fit: mirFit, envelope: mirEnvelope, xTicks: histXTicks20, yTicks: histYTicks,
  xLabelY: 3461, yLabelX: 1348, chanX: 1632, chanY: 3475, numX: 1332, numY: 3227});
drawHist({name: 'histogram-combo', ox: 1993, sx: 3.84, base: 3442, sy: 0.2824, top: 3019, xMax: 140, xMinor: 6, yMax: 1440, peak: 51,
  g1: comboG1, g2: comboG2, s: comboS, apoptosis: comboApoptosis, fit: comboFit, envelope: comboEnvelope, xTicks: histXTicks30, yTicks: histYTicks,
  xLabelY: 3463, yLabelX: 1971, chanX: 2260, chanY: 3476, numX: 1956, numY: 3230});
</script>
</body>
</html>
